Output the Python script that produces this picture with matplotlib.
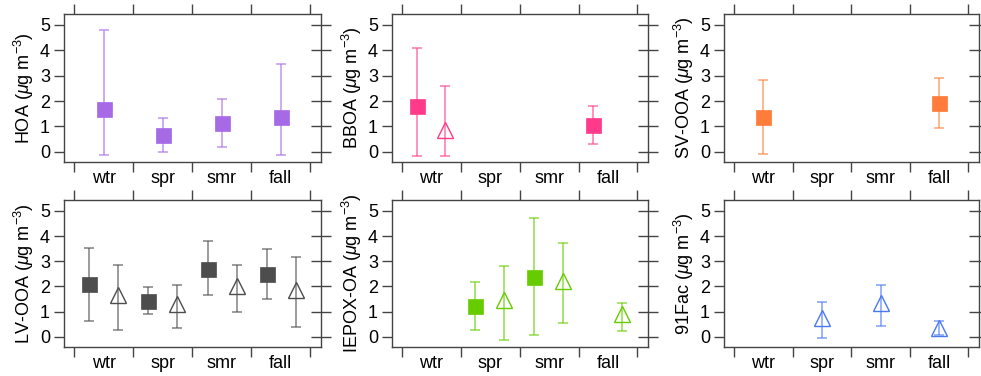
import numpy as np
import matplotlib
matplotlib.use('Agg')
import matplotlib.pyplot as plt

plt.rcParams['font.family'] = ['Liberation Sans', 'DejaVu Sans']
plt.rcParams['mathtext.fontset'] = 'custom'
plt.rcParams['mathtext.rm'] = 'Liberation Sans'
plt.rcParams['mathtext.it'] = 'Liberation Sans:italic'

nan = np.nan
seasons = ['wtr', 'spr', 'smr', 'fall']

# filled squares: mean, lower and upper whisker per season
hoa_sq = [1.70, 0.67, 1.14, 1.39]
hoa_sq_lo = [-0.13, 0.01, 0.21, -0.12]
hoa_sq_hi = [4.80, 1.32, 2.09, 3.46]

bboa_sq = [1.81, nan, nan, 1.05]
bboa_sq_lo = [-0.15, nan, nan, 0.30]
bboa_sq_hi = [4.08, nan, nan, 1.79]
bboa_tri = [0.87, nan, nan, nan]
bboa_tri_lo = [-0.15, nan, nan, nan]
bboa_tri_hi = [2.59, nan, nan, nan]

svooa_sq = [1.36, nan, nan, 1.93]
svooa_sq_lo = [-0.08, nan, nan, 0.94]
svooa_sq_hi = [2.82, nan, nan, 2.90]

lvooa_sq = [2.09, 1.43, 2.71, 2.50]
lvooa_sq_lo = [0.62, 0.89, 1.67, 1.51]
lvooa_sq_hi = [3.53, 1.99, 3.79, 3.49]
lvooa_tri = [1.66, 1.30, 2.00, 1.87]
lvooa_tri_lo = [0.29, 0.34, 0.97, 0.41]
lvooa_tri_hi = [2.87, 2.07, 2.87, 3.17]

iepox_sq = [nan, 1.22, 2.39, nan]
iepox_sq_lo = [nan, 0.29, 0.09, nan]
iepox_sq_hi = [nan, 2.17, 4.70, nan]
iepox_tri = [nan, 1.45, 2.21, 0.89]
iepox_tri_lo = [nan, -0.11, 0.54, 0.22]
iepox_tri_hi = [nan, 2.82, 3.71, 1.36]

fac91_tri = [nan, 0.76, 1.36, 0.36]
fac91_tri_lo = [nan, -0.03, 0.42, 0.07]
fac91_tri_hi = [nan, 1.37, 2.07, 0.63]

panels = [
    ('HOA', '#a66ae6', (hoa_sq, hoa_sq_lo, hoa_sq_hi), None, 0.0, 0.0),
    ('BBOA', '#ff3a8a', (bboa_sq, bboa_sq_lo, bboa_sq_hi),
     (bboa_tri, bboa_tri_lo, bboa_tri_hi), -0.25, 0.23),
    ('SV-OOA', '#ff7c3a', (svooa_sq, svooa_sq_lo, svooa_sq_hi), None, 0.0, 0.0),
    ('LV-OOA', '#4d4d4d', (lvooa_sq, lvooa_sq_lo, lvooa_sq_hi),
     (lvooa_tri, lvooa_tri_lo, lvooa_tri_hi), -0.24, 0.25),
    ('IEPOX-OA', '#66cc00', (iepox_sq, iepox_sq_lo, iepox_sq_hi),
     (iepox_tri, iepox_tri_lo, iepox_tri_hi), -0.26, 0.23),
    ('91Fac', '#4a78f5', None, (fac91_tri, fac91_tri_lo, fac91_tri_hi), 0.0, 0.0),
]

W, H = 981, 376
lefts = [64, 392, 724]
widths = [257, 256, 255]
tops = [14, 200]
heights = [148, 147]
frame = '#444444'

fig = plt.figure(figsize=(W / 100, H / 100), dpi=100)


def draw_series(ax, series, off, color, marker):
    m, lo, hi = [np.array(a, dtype=float) for a in series]
    x = np.arange(4) + 0.5 + off
    err = np.vstack([m - lo, hi - m])
    ax.errorbar(x, m, yerr=err, fmt='none', ecolor=color, alpha=0.7,
                elinewidth=1.1, capsize=3.6, capthick=1.1, zorder=2)
    if marker == 's':
        ax.plot(x, m, 's', ms=10.8, color=color, mec=color, mew=0.5, zorder=3)
    else:
        ax.plot(x, m, '^', ms=11, mfc='none', mec=color, mew=1.0, zorder=3)


for k, (name, color, sq, tri, off_sq, off_tri) in enumerate(panels):
    row, col = divmod(k, 3)
    rect = [lefts[col] / W, (H - tops[row] - heights[row]) / H,
            widths[col] / W, heights[row] / H]
    ax = fig.add_axes(rect)
    if sq is not None:
        draw_series(ax, sq, off_sq, color, 's')
    if tri is not None:
        draw_series(ax, tri, off_tri, color, '^')

    ax.set_xlim(-0.17, 4.18)
    ax.set_ylim(-0.4, 5.43)

    ax.set_xticks([0, 1, 2, 3, 4])
    ax.set_xticklabels([])
    ax.set_xticks([0.5, 1.5, 2.5, 3.5], minor=True)
    ax.set_xticklabels(seasons, minor=True)
    ax.tick_params(axis='x', which='major', top=True, bottom=True,
                   direction='out', length=7, width=1, color=frame)
    ax.tick_params(axis='x', which='minor', length=0, pad=6, labelsize=13)

    ax.set_yticks(range(6))
    ax.tick_params(axis='y', left=True, right=True, direction='out',
                   length=7, width=1, color=frame, labelsize=13, pad=3)
    for t in ax.yaxis.get_major_ticks():
        t.tick2line.set_marker('_')
        t.tick2line.set_markersize(14)

    for s in ax.spines.values():
        s.set_color(frame)
        s.set_linewidth(1)

    ax.set_ylabel(name + r' ($\mu$g m$^{-3}$)', fontsize=13, labelpad=3)

fig.savefig('out.png', dpi=100)
